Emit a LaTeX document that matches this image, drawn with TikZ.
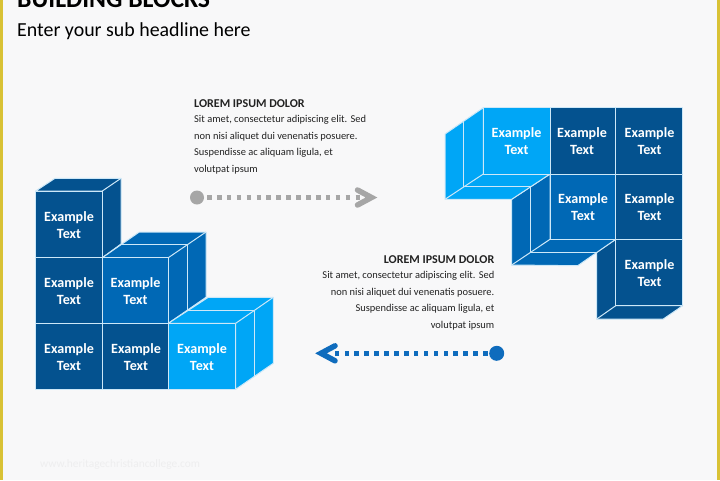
\documentclass[tikz,border=0pt]{standalone}
\usepackage{fontspec}
\setmainfont{Carlito}
\definecolor{bg}{HTML}{F8F8F9}
\definecolor{dk}{HTML}{04528F}
\definecolor{md}{HTML}{0068B5}
\definecolor{lt}{HTML}{00A6F6}
\definecolor{ln}{HTML}{CDE8F8}
\definecolor{yl}{HTML}{D9C235}
\definecolor{gy}{HTML}{A6A6A6}
\definecolor{bl}{HTML}{0F6CBD}
\definecolor{tx}{HTML}{222222}
\tikzset{
 x=1pt,y=-1pt,
 face/.style={draw=ln,line width=1pt,line join=round},
 lbl/.style={text=white,font=\fontsize{14.1}{16.6}\selectfont\bfseries,align=center,inner sep=0pt},
 hd/.style={text=tx,font=\fontsize{12}{13}\selectfont\bfseries,inner sep=0pt},
 body/.style={text=tx,font=\fontsize{10.45}{16.5}\selectfont,inner sep=0pt},
 dots/.style={line width=4.6pt,dash pattern=on 4.6pt off 5.3pt},
 chev/.style={line width=5.5pt,line cap=round,line join=miter},
}
\begin{document}
\begin{tikzpicture}
\useasboundingbox (0,0) rectangle (720,480);
\fill[bg] (0,0) rectangle (720,480);
\fill[yl] (0,0) rectangle (3.2,480);
\fill[yl] (717,0) rectangle (720,480);
\begin{scope}
\clip (0,0) rectangle (720,480);
\node[anchor=base west,inner sep=0pt,font=\fontsize{25.7}{28}\selectfont\bfseries,text=black] (title) at (17,7) {BUILDING BLOCKS};
\end{scope}
\node[anchor=base west,inner sep=0pt,font=\fontsize{19.9}{22}\selectfont,text=black] (sub) at (17,36) {Enter your sub headline here};
% left stack: tower
\fill[dk,face] (35.7,191) -- (55,178.3) -- (121,178.3) -- (121,244) -- (102.3,257.7) -- (102.3,191) -- cycle;
\draw[face] (102.3,191) -- (121,178.3);
\draw[face,fill=dk] (35.7,191) rectangle (102.3,257.7);
\draw[face,fill=dk] (35.7,257.7) rectangle (102.3,323.3);
\draw[face,fill=dk] (35.7,323.3) rectangle (102.3,389.3);
\draw[face,fill=dk] (102.3,323.3) rectangle (168.3,389.3);
% left stack: middle block
\draw[face,fill=md] (102.3,257.7) -- (139.3,232) -- (206,232) -- (206,297.3) -- (168.3,323.3) -- (168.3,257.7) -- cycle;
\draw[face] (102.3,257.7) -- (168.3,257.7) -- (206,232);
\draw[face] (121,244.7) -- (187.5,244.7) -- (187.5,310);
\draw[face,fill=md] (102.3,257.7) rectangle (168.3,323.3);
% left stack: light block
\draw[face,fill=lt] (168.3,323.3) -- (208.3,297.3) -- (273.3,297.3) -- (273.3,363.3) -- (235.7,389.3) -- (235.7,323.3) -- cycle;
\draw[face] (235.7,323.3) -- (273.3,297.3);
\draw[face] (188.3,310) -- (254.3,310) -- (254.3,376);
\draw[face,fill=lt] (168.3,323.3) rectangle (235.7,389.3);
\node[lbl] (a1) at (69,225) {Example\\Text};
\node[lbl] (a2) at (69,291) {Example\\Text};
\node[lbl] (a3) at (69,357.3) {Example\\Text};
\node[lbl] (a4) at (135.5,291) {Example\\Text};
\node[lbl] (a5) at (136,357.3) {Example\\Text};
\node[lbl] (a6) at (202,357.3) {Example\\Text};
% right stack: bottom block
\draw[face,fill=dk] (615.7,239.3) -- (596.7,252.3) -- (596.7,319) -- (663.3,319) -- (682.7,305.7) -- (615.7,305.7) -- cycle;
\draw[face] (596.7,319) -- (615.7,305.7);
\draw[face,fill=dk] (615.7,239.3) rectangle (682.7,305.7);
% right stack: middle block
\draw[face,fill=md] (550,174) -- (511.7,199.3) -- (511.7,265) -- (577.7,265.7) -- (615.7,239.3) -- (550,239.3) -- cycle;
\draw[face] (511.7,265) -- (550,239.3);
\draw[face] (530.7,186.7) -- (530.7,252.3) -- (595.7,252.3);
\draw[face,fill=md] (550,174) rectangle (615.7,239.3);
% right stack: light block
\draw[face,fill=lt] (483.3,107.7) -- (445,134) -- (445,199.3) -- (511.7,199.3) -- (550,174) -- (483.3,174) -- cycle;
\draw[face] (445,199.3) -- (483.3,174);
\draw[face] (463.3,121) -- (463.3,186.7) -- (530.7,186.7);
\draw[face,fill=lt] (483.3,107.7) rectangle (550,174);
\draw[face,fill=dk] (550,107.7) rectangle (615.7,174);
\draw[face,fill=dk] (615.7,107.7) rectangle (682.7,174);
\draw[face,fill=dk] (615.7,174) rectangle (682.7,239.3);
\node[lbl] (b1) at (516.5,141.3) {Example\\Text};
\node[lbl] (b2) at (582,141.3) {Example\\Text};
\node[lbl] (b3) at (649.5,141.3) {Example\\Text};
\node[lbl] (b4) at (583,207.3) {Example\\Text};
\node[lbl] (b5) at (649.5,207.3) {Example\\Text};
\node[lbl] (b6) at (649.5,273.3) {Example\\Text};
% captions
\node[hd,anchor=base west] (h1) at (194,107) {LOREM IPSUM DOLOR};
\node[body,anchor=north west,align=left] (t1) at (194,115.5) {Sit amet, consectetur adipiscing elit. Sed\\non nisi aliquet dui venenatis posuere.\\Suspendisse ac aliquam ligula, et\\volutpat ipsum};
\node[hd,anchor=base east] (h2) at (494.5,263) {LOREM IPSUM DOLOR};
\node[body,anchor=north east,align=right] (t2) at (494.5,271.5) {Sit amet, consectetur adipiscing elit. Sed\\non nisi aliquet dui venenatis posuere.\\Suspendisse ac aliquam ligula, et\\volutpat ipsum};
% arrows
\node[circle,fill=gy,minimum size=14pt,inner sep=0pt] (d1) at (197,197.5) {};
\coordinate (e1) at (371.5,197.5);
\draw[gy,dots] ([xshift=10pt]d1.center) -- ([xshift=-10pt]e1);
\draw[gy,chev] ([shift={(-14,-7.5)}]e1) -- (e1) -- ([shift={(-14,7.5)}]e1);
\node[circle,fill=bl,minimum size=15pt,inner sep=0pt] (d2) at (496.7,353.3) {};
\coordinate (e2) at (321,353.3);
\draw[bl,dots] ([xshift=-9pt]d2.center) -- ([xshift=13pt]e2);
\draw[bl,chev] ([shift={(14,-7.5)}]e2) -- (e2) -- ([shift={(14,7.5)}]e2);
\node[anchor=base west,inner sep=0pt,font=\fontsize{11.4}{12}\selectfont,text=bg!96!black] (wm) at (40,467) {www.heritagechristiancollege.com};
\end{tikzpicture}
\end{document}
